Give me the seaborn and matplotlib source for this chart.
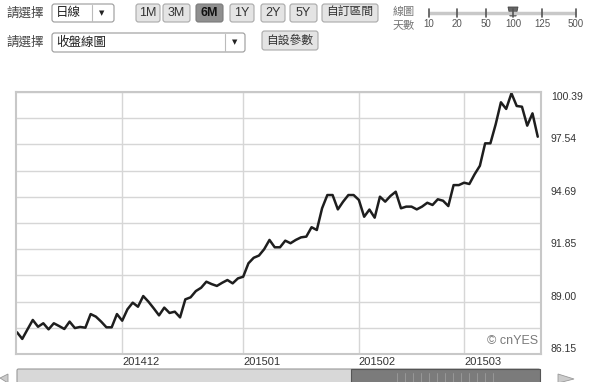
import numpy as np
import pandas as pd
import matplotlib
matplotlib.use("Agg")
import matplotlib.pyplot as plt
import matplotlib.patches as mpatches
import seaborn as sns

# ---------------- data ----------------
start_date = "2014-11-03"
close_values = [
    87.33, 86.97, 87.49, 88.00, 87.63, 87.82, 87.49, 87.82, 87.67, 87.51,
    87.91, 87.56, 87.62, 87.58, 88.32, 88.18, 87.91, 87.60, 87.60, 88.32,
    87.96, 88.58, 88.94, 88.72, 89.30, 88.99, 88.63, 88.25, 88.67, 88.38,
    88.45, 88.14, 89.12, 89.23, 89.57, 89.75, 90.08, 89.95, 89.85, 90.02,
    90.17, 89.99, 90.26, 90.35, 91.08, 91.38, 91.50, 91.85, 92.35, 91.95,
    91.95, 92.31, 92.17, 92.35, 92.49, 92.53, 93.04, 92.89, 94.07, 94.79,
    94.79, 94.01, 94.43, 94.79, 94.79, 94.52, 93.61, 94.00, 93.56, 94.70,
    94.43, 94.74, 94.97, 94.07, 94.16, 94.16, 94.01, 94.16, 94.37, 94.25,
    94.56, 94.48, 94.19, 95.33, 95.33, 95.46, 95.39, 95.92, 96.38, 97.60,
    97.60, 98.63, 99.83, 99.47, 100.32, 99.63, 99.59, 98.56, 99.23, 97.96,
]
y_min, y_max = 86.15, 100.39
y_tick_labels = ["86.15", "89.00", "91.85", "94.69", "97.54", "100.39"]
period_buttons = ["1M", "3M", "6M", "1Y", "2Y", "5Y"]
slider_labels = ["10", "20", "50", "100", "125", "500"]

dates = pd.bdate_range(start_date, periods=len(close_values))
df = pd.DataFrame({"idx": np.arange(len(close_values)), "date": dates, "close": close_values})

# ---------------- style ----------------
sns.set_theme(style="white")
plt.rcParams["font.family"] = ["Liberation Sans", "Noto Sans CJK TC", "DejaVu Sans"]

W, H = 600, 382
fig = plt.figure(figsize=(W / 100, H / 100), dpi=100)
fig.patch.set_facecolor("white")

ov = fig.add_axes([0, 0, 1, 1], zorder=0)
ov.set_xlim(0, W)
ov.set_ylim(H, 0)
ov.axis("off")

def box(x0, y0, x1, y1, fc="#e9e9e9", ec="#a9a9a9", lw=0.8, r=2.5):
    p = mpatches.FancyBboxPatch((x0, y0), x1 - x0, y1 - y0,
                                boxstyle=f"round,pad=0,rounding_size={r}",
                                fc=fc, ec=ec, lw=lw)
    ov.add_patch(p)

txt_col = "#333333"
# row 1
ov.text(6, 14, "請選擇", fontsize=9, color="#444", va="center", ha="left")
box(52, 4, 114, 22, fc="white", ec="#9a9a9a")
ov.plot([92, 92], [5, 21], color="#bbbbbb", lw=0.8)
ov.text(56, 13, "日線", fontsize=9, color="#222", va="center")
ov.text(102, 13, "▼", fontsize=5, color="#222", va="center", ha="center", family="DejaVu Sans")

btn_x = [(136, 160), (163, 190), (196, 223), (230, 254), (261, 285), (290, 317)]
for (x0, x1), lab in zip(btn_x, period_buttons):
    sel = lab == "6M"
    box(x0, 4, x1, 22, fc="#8f8f8f" if sel else "#e4e4e4", ec="#7a7a7a" if sel else "#a9a9a9")
    ov.text((x0 + x1) / 2, 13, lab, fontsize=9, color="#111" if sel else txt_col,
            va="center", ha="center", fontweight="bold" if sel else "normal")
box(322, 4, 378, 22, fc="#e4e4e4")
ov.text(350, 13, "自訂區間", fontsize=8.5, color=txt_col, va="center", ha="center")

ov.text(393, 12, "線圖", fontsize=8, color="#777", va="center", ha="left")
ov.text(393, 25, "天數", fontsize=8, color="#777", va="center", ha="left")
ov.plot([429, 576], [13, 13], color="#c8c8c8", lw=2.5, solid_capstyle="butt")
slider_x = [429, 457, 486, 513, 542, 576]
for sx, sl in zip(slider_x, slider_labels):
    ov.plot([sx, sx], [9, 17], color="#555", lw=1.2)
    ov.text(sx, 24, sl, fontsize=7, color="#555", va="center", ha="center")
ov.add_patch(mpatches.Polygon([[508, 7], [518, 7], [516, 16], [510, 16]], closed=True,
                              fc="#666", ec="#444", lw=0.6))

# row 2
ov.text(6, 43, "請選擇", fontsize=9, color="#444", va="center", ha="left")
box(52, 33, 245, 52, fc="white", ec="#9a9a9a")
ov.plot([225, 225], [34, 51], color="#bbbbbb", lw=0.8)
ov.text(56, 42.5, "收盤線圖", fontsize=9, color="#222", va="center")
ov.text(235, 42.5, "▼", fontsize=5, color="#222", va="center", ha="center", family="DejaVu Sans")
box(262, 31, 318, 50, fc="#e4e4e4")
ov.text(290, 40.5, "自設參數", fontsize=8.5, color=txt_col, va="center", ha="center")

# scrollbar
box(17, 369, 540, 383, fc="#d8d8d8", ec="#9a9a9a", r=1.5)
ov.add_patch(mpatches.Rectangle((351, 369), 189, 14, fc="#7b7b7b", ec="#555", lw=0.8))
for sx in np.arange(397, 497, 8):
    ov.plot([sx, sx], [373, 382], color="#9c9c9c", lw=0.6)
ov.add_patch(mpatches.Polygon([[558, 374], [574, 379], [558, 383]], closed=True,
                              fc="#cccccc", ec="#999", lw=0.6))
ov.add_patch(mpatches.Polygon([[8, 374], [0, 378], [8, 383]], closed=True,
                              fc="#cccccc", ec="#999", lw=0.6))

# ---------------- main chart ----------------
left, right, top, bottom = 16, 541, 92, 354
ax = fig.add_axes([left / W, 1 - bottom / H, (right - left) / W, (bottom - top) / H], zorder=1)
ax.set_facecolor("white")

sns.lineplot(data=df, x="idx", y="close", ax=ax, color="#1e1e1e", linewidth=1.8)

step = 5.26
ax.set_xlim(-(17 - left) / step, (right - 17) / step)
ax.set_ylim(y_min, y_max)

month_key = df["date"].dt.to_period("M")
first_idx = df.groupby(month_key)["idx"].min().iloc[1:]
month_labels = [p.strftime("%Y%m") for p in first_idx.index]
ax.set_xticks(first_idx.values)
ax.set_xticklabels(month_labels, ha="left", fontsize=8, color="#333")
ax.tick_params(axis="x", length=0, pad=2)

grid_step = (y_max - y_min) / 10
y_grid = [y_min + k * grid_step for k in range(11)]
ax.set_yticks(y_grid)
ylabs = []
j = 0
for k in range(11):
    if k % 2 == 0:
        ylabs.append(y_tick_labels[j]); j += 1
    else:
        ylabs.append("")
ax.set_yticklabels(ylabs, fontsize=7.5, color="#333")
ax.yaxis.tick_right()
ax.tick_params(axis="y", length=0, pad=7)
for lab in ax.get_yticklabels():
    if lab.get_text() == y_tick_labels[-1]:
        lab.set_va("top")
    else:
        lab.set_va("bottom")

ax.grid(True, color="#d6d6d6", linewidth=1.0)
ax.set_xlabel("")
ax.set_ylabel("")
for s in ax.spines.values():
    s.set_visible(True)
    s.set_color("#c8c8c8")
    s.set_linewidth(1.5)

ax.text(0.995, 0.025, "© cnYES", transform=ax.transAxes, ha="right", va="bottom",
        fontsize=9, color="#7a7a7a")

fig.savefig("out.png", dpi=100)
